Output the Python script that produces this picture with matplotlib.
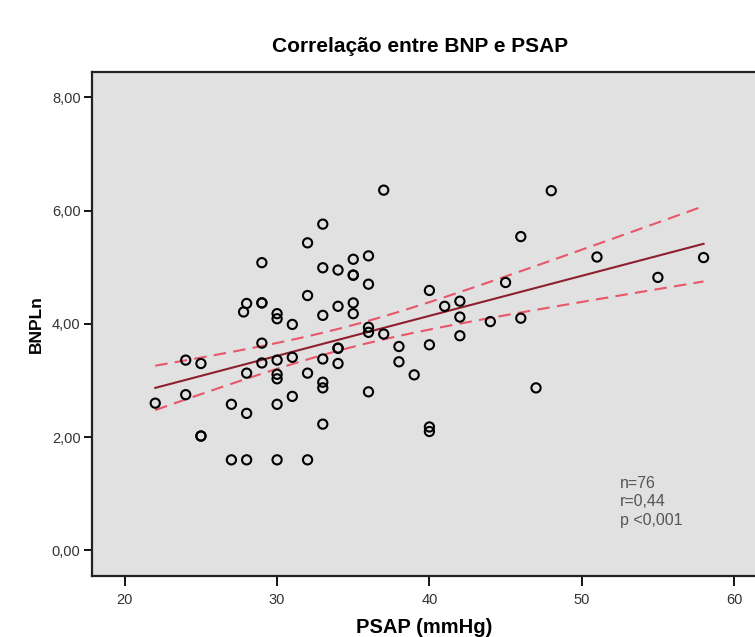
import numpy as np
import matplotlib.pyplot as plt

# PSAP (mmHg) vs ln(BNP), 76 pacientes
psap = [22, 24, 24, 25, 25, 25, 27, 27, 27.8, 28, 28, 28, 28,
        29, 29, 29, 29, 29, 30, 30, 30, 30, 30, 30, 30,
        31, 31, 31, 32, 32, 32, 32, 33, 33, 33, 33, 33, 33, 33,
        34, 34, 34, 34, 34, 35, 35, 35, 35, 35, 36, 36, 36, 36, 36,
        37, 37, 38, 38, 39, 40, 40, 40, 40, 41, 42, 42, 42,
        44, 45, 46, 46, 47, 48, 51, 55, 58]
bnp_ln = [2.60, 3.36, 2.75, 3.30, 2.02, 2.02, 2.58, 1.60, 4.21, 4.36, 3.13, 2.42, 1.60,
          5.08, 4.37, 4.37, 3.66, 3.31, 4.18, 4.09, 3.36, 3.11, 3.03, 2.58, 1.60,
          3.99, 3.41, 2.72, 5.43, 4.50, 3.13, 1.60, 5.76, 4.99, 4.15, 3.38, 2.97, 2.87, 2.23,
          4.95, 4.31, 3.57, 3.57, 3.30, 5.14, 4.86, 4.86, 4.37, 4.18, 5.20, 4.70, 3.94, 3.85, 2.80,
          6.36, 3.82, 3.60, 3.33, 3.10, 4.59, 3.63, 2.18, 2.10, 4.31, 4.40, 4.12, 3.79,
          4.04, 4.73, 5.54, 4.10, 2.87, 6.35, 5.18, 4.82, 5.17]

x_ticks = [20, 30, 40, 50, 60]
y_ticks = [0, 2, 4, 6, 8]
y_ticklabels = ["0,00", "2,00", "4,00", "6,00", "8,00"]
stats_text = "n=76\nr=0,44\np <0,001"

FONT = "Liberation Sans"


def fit_with_ci(x, y, t_crit=1.666):
    # linha de regressao + intervalo de confianca da media
    x = np.asarray(x, float)
    y = np.asarray(y, float)
    b, a = np.polyfit(x, y, 1)
    n = len(x)
    resid = y - (a + b * x)
    s = np.sqrt(np.sum(resid ** 2) / (n - 2))
    sxx = np.sum((x - x.mean()) ** 2)
    xs = np.linspace(x.min(), x.max(), 100)
    yh = a + b * xs
    half = t_crit * s * np.sqrt(1.0 / n + (xs - x.mean()) ** 2 / sxx)
    return xs, yh, yh - half, yh + half


fig = plt.figure(figsize=(7.55, 6.37), dpi=100)
ax = fig.add_axes([0.1215, 0.0958, 0.881, 0.7907])
ax.set_facecolor("#e1e1e1")

xs, yh, lo, hi = fit_with_ci(psap, bnp_ln)
ax.plot(xs, hi, color="#e8566a", lw=1.5, ls=(0, (6, 3.5)), zorder=2)
ax.plot(xs, lo, color="#e8566a", lw=1.5, ls=(0, (6, 3.5)), zorder=2)
ax.plot(xs, yh, color="#8e1f2e", lw=1.5, zorder=3)

ax.scatter(psap, bnp_ln, s=44, facecolors="none", edgecolors="black",
           linewidths=1.5, zorder=4)

ax.set_xlim(17.83, 61.5)
ax.set_ylim(-0.45, 8.44)
ax.set_xticks(x_ticks)
ax.set_yticks(y_ticks)
ax.set_yticklabels(y_ticklabels)
ax.tick_params(axis="y", direction="out", width=1.3, length=6,
               labelsize=10.5, labelcolor="#333333", pad=2)
ax.tick_params(axis="x", direction="out", width=1.3, length=7,
               labelsize=10.5, labelcolor="#333333", pad=5)
for lab in ax.get_xticklabels() + ax.get_yticklabels():
    lab.set_family(FONT)

for side in ["left", "bottom", "top"]:
    ax.spines[side].set_linewidth(1.6)
    ax.spines[side].set_color("#222222")
ax.spines["right"].set_visible(False)

ax.set_xlabel("PSAP (mmHg)", family=FONT, fontsize=14.5, fontweight="bold", labelpad=8)
ax.set_ylabel("BNPLn", family=FONT, fontsize=12.5, fontweight="bold", labelpad=6)

ax.text(52.5, 0.86, stats_text, family=FONT, fontsize=11.5, color="#555555",
        linespacing=1.3, va="center", ha="left")

fig.text(420 / 755, 1 - 46 / 637, "Correlação entre BNP e PSAP", family=FONT,
         fontsize=15, fontweight="bold", ha="center", va="center")

fig.savefig("out.png", dpi=100)
